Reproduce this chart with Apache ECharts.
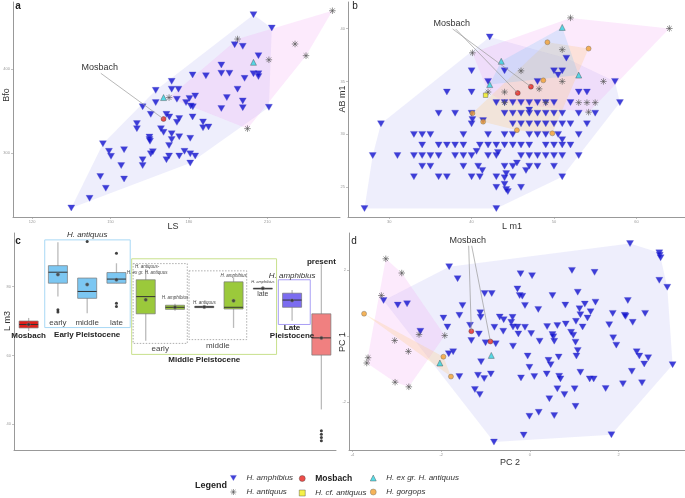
<!DOCTYPE html>
<html><head><meta charset="utf-8">
<script src="https://cdn.jsdelivr.net/npm/echarts@6/dist/echarts.min.js"></script>
<style>html,body{margin:0;padding:0;background:#fff}#c{width:685px;height:498px}</style>
</head><body><div id="c"></div>
<script>
// ---------- Panel a : LS vs Bfo ----------
const a_xticks = [120,150,180,210];
const a_yticks = [300,400];
const a_amphibius = [[204.7,464.7],[211.7,448.8],[197.5,429],[200.6,427],[206.6,415.9],[192.4,404.8],[192.4,395],[195.5,395],[181.4,392.9],[186.5,392],[204.7,394.4],[206.6,394.4],[206.6,391],[201.3,388.9],[173.4,385.3],[167.3,374.6],[173.4,376],[176,376],[198.6,376],[182.4,368],[180.2,365],[175.4,364],[194.5,366],[200.6,362],[167.3,360],[178.9,360],[180.7,356],[181.5,355],[162.3,355],[192.4,353],[200.6,354],[210.6,354.4],[165.4,346],[171.4,346],[172.5,343],[181.4,343],[176.3,341],[175.4,336.5],[160.1,335],[160.1,329],[169.3,329],[185.4,337],[185.4,330],[187.5,331],[170.3,324.6],[173.4,323],[176.3,319.4],[180.5,317.5],[164.9,319],[164.9,316],[173.4,316],[165.1,314],[147.1,311],[172.4,309],[155.2,304],[149.4,302],[150.2,296],[166.2,301.6],[165.4,299],[178.3,302],[180.5,299],[182.4,296.4],[172.4,296.4],[176.3,296.4],[171.4,292],[162.3,292],[154.1,285],[162.3,285],[180.5,288],[146.1,272],[155.2,269],[148.2,258],[142,246],[135,234.5]];
const a_antiquus = [[234.9,469.4],[198.6,435.7],[220.6,429.8],[224.8,415.9],[210.6,411],[172.4,366],[202.4,329]];
const a_exgr = [[170.3,366],[204.7,408]];
const a_mosbach = [[170.3,340.5]];
const a_label = [146.3,395.5];

// ---------- Panel b : L m1 vs AB m1 ----------
const b_xticks = [30,40,50,60];
const b_yticks = [25,30,35,40];
const b_amphibius = [[27,23],[43,23],
[43,25],[46,25],[44,25.3],[44.2,24.8],[44.4,24.6],
[33,26],[36,26],[37,26],[40,26],[41,26],[43,26],[45,26],[51,26],[44.2,26.3],[44,25.9],
[46.6,26.6],[41.3,26.6],
[34,27],[35,27],[39,27],[40.8,27],[44,27],[45,27],[47,27],[48,27],[50,27],[45.5,27.3],
[28,28],[31,28],[33,28],[34,28],[35,28],[36,28],[38,28],[39,28],[40,28],[42,28],[43,28],[46,28],[47,28],[48,28],[49,28],[50,28],[51,28],[53,28],[43.2,28.3],[40.6,28.4],
[34,29],[36,29],[37,29],[38,29],[39,29],[41,29],[42,29],[43,29],[44,29],[45,29],[46,29],[47,29],[49,29],[50,29],[51,29],[52,29],[51,29.5],
[33,30],[34,30],[35,30],[39,30],[42,30],[44,30],[45,30],[47,30],[48,30],[49,30],[50.5,30],[53,30],
[29,31],[40,31],[45,31],[46,31],[47,31],[48,31],[49,31],[50,31],[51,31],[52,31],[54,31],[40.1,31.4],[41.4,31.3],
[36,32],[38,32],[40,32],[44,32],[45,32],[46,32],[47,32],[48,32],[49,32],[50,32],[51,32],[53,32],[55,32],[47,32.3],
[43,33],[44,33],[45,33],[46,33],[47,33],[48,33],[49,33],[50,33],[52,33],[58,33],
[37,34],[40,34],[53,34],[54,34],
[42,35],[48,35],[57.4,35],
[40,36],[44,36],[50,36],[51,36],[50.5,35.6],
[51.5,37.2],[42.2,39.2]];
const b_antiquus = [[52,41],[64,40],[40.1,37.7],[51,38],[46,36],[51,35],[48.2,34.3],[56,35],[42,34],[44,34],[44,33],[49,33],[53,33],[54,33],[55,33],[54.2,32.1]];
const b_exgr = [[51,40.1],[43.6,36.9],[53,35.6],[42.2,34.7]];
const b_gorgops = [[49.2,38.7],[54.2,38.1],[48.7,35.1],[40.1,32],[41.4,31.2],[45.5,30.4],[49.8,30.1]];
const b_cf = [[41.7,33.7]];
const b_mosbach = [[47.2,34.5],[45.6,33.9]];
const b_label = [37.7,40.0];

// ---------- Panel c : L m3 boxplots ----------
const c_yticks = [40,60,80];
const c_categories = ['Mosbach','EP early','EP middle','EP late','MP early antiquus','MP early amphibius','MP middle antiquus','MP middle amphibius','MP late amphibius','LP amphibius','present'];
const c_min    = [67.1,77.1,72.3,81.0,64.3,73.0,74.1,68.0,79.5,70.1,44.3];
const c_q1     = [68.0,81.0,76.6,81.0,72.1,73.4,73.9,73.5,79.5,74.0,60.1];
const c_median = [69.0,84.2,78.6,82.2,77.1,74.0,74.1,74.0,79.5,76.1,65.1];
const c_q3     = [70.0,86.1,82.5,84.1,82.0,74.6,74.3,81.4,79.5,78.1,72.1];
const c_max    = [70.9,92.9,82.5,86.8,85.1,75.0,74.3,82.7,79.5,79.0,86.5];
const c_mean   = [69.0,83.5,80.6,82.0,76.2,74.0,74.1,75.9,79.5,76.0,65.1];
const c_outliers = [[1,73.3],[1,72.6],[2,93.1],[3,89.7],[3,75.2],[3,74.2],[10,38.1],[10,37.1],[10,36.1],[10,35.2]];
const c_colors = ['#e01f1a','#7cc7f2','#7cc7f2','#7cc7f2','#9bc93b','#9bc93b','#333333','#9bc93b','#9a9a9a','#7b6cf0','#f08080'];

// ---------- Panel d : PCA ----------
const d_xticks = [-4,-2,0,2];
const d_yticks = [-2,0,2];
const d_amphibius = [[2.26,2.80],[2.92,2.52],[2.93,2.45],[2.95,2.37],[2.92,1.69],[3.10,1.48],[-1.82,2.10],[-1.63,1.74],[-0.21,1.89],[0.05,1.83],[0.95,1.99],[1.46,1.93],[-0.28,1.43],[-0.23,1.23],[-0.17,1.21],[-1.02,1.29],[-0.86,1.29],[1.08,1.33],[0.51,1.23],[-0.11,0.93],[2.21,1.08],[-3.30,1.08],[-2.98,0.94],[-2.77,0.98],[-1.52,0.93],[0.80,0.94],[1.24,0.97],[1.48,1.03],[1.12,0.83],[0.19,0.81],[1.87,0.69],[2.14,0.63],[2.60,0.69],[-1.59,0.63],[-1.95,0.55],[-1.12,0.71],[-1.11,0.57],[-0.68,0.58],[-0.59,0.50],[-0.39,0.57],[-0.42,0.42],[-0.38,0.28],[-0.28,0.28],[-0.11,0.27],[1.37,0.74],[1.14,0.65],[1.30,0.55],[1.79,0.35],[2.16,0.60],[2.32,0.42],[0.62,0.32],[0.81,0.37],[1.04,0.45],[1.19,0.28],[-1.86,0.28],[-1.35,0.33],[-0.80,0.27],[-0.60,0.15],[-0.26,0.07],[0.03,0.08],[0.39,0.29],[0.51,0.05],[0.53,-0.02],[0.93,0.12],[0.98,0.03],[1.03,-0.18],[0.55,-0.15],[0.22,-0.15],[-0.38,-0.30],[-2.47,0.15],[-1.15,0.07],[-1.00,-0.20],[-0.77,-0.23],[-1.32,-0.13],[-1.73,-0.47],[-1.83,-0.53],[1.88,-0.05],[1.95,-0.27],[1.08,-0.43],[1.05,-0.60],[-0.05,-0.60],[0.65,-0.63],[2.41,-0.47],[2.47,-0.60],[2.67,-0.65],[2.58,-0.84],[3.22,-0.86],[-1.10,-0.77],[0.42,-0.73],[0.47,-0.86],[-0.01,-0.94],[-1.59,-1.22],[-1.17,-1.18],[-1.03,-1.28],[-0.88,-1.14],[-0.20,-1.26],[0.10,-1.22],[0.38,-1.14],[0.66,-1.21],[0.69,-1.29],[1.14,-1.09],[1.35,-1.29],[1.44,-1.29],[2.30,-1.06],[2.53,-1.41],[2.10,-1.44],[1.71,-1.58],[-1.24,-1.61],[-1.13,-1.76],[0.62,-1.59],[0.78,-1.76],[1.01,-1.59],[0.44,-1.89],[1.03,-2.12],[-0.01,-2.42],[0.20,-2.30],[0.55,-2.40],[-0.14,-2.99],[1.84,-2.98],[-0.81,-3.20]];
const d_antiquus = [[-3.25,2.34],[-2.89,1.91],[-3.35,1.23],[-2.50,0.05],[-1.92,0.02],[-3.05,-0.13],[-2.74,-0.46],[-3.65,-0.65],[-3.68,-0.81],[-3.04,-1.39],[-2.73,-1.53]];
const d_gorgops = [[-3.74,0.68],[-1.95,-0.62],[-1.78,-1.22]];
const d_exgr = [[-0.87,-0.58],[-2.03,-0.81]];
const d_mosbach = [[-1.32,0.15],[-0.89,-0.16]];
const d_label = [-1.38,2.75];

// ---------- styles ----------
const FONT = 'Liberation Sans';
const SYM_DOWN = 'path://M0,0 L10,0 L5,8.66 Z';
const SYM_AST = 'path://M5,0 L5,10 M0,5 L10,5 M1.46,1.46 L8.54,8.54 M1.46,8.54 L8.54,1.46';
const ST = {
  'H. amphibius': {symbol: SYM_DOWN, size:[7,6], z:3, itemStyle:{color:'#1010d0', borderColor:'#5050c8', borderWidth:0.4}},
  'H. antiquus': {symbol: SYM_AST, size:6.5, z:4, itemStyle:{color:'rgba(0,0,0,0)', borderColor:'#555', borderWidth:0.8}},
  'Mosbach': {symbol:'circle', size:5, z:6, itemStyle:{color:'#e8201c', borderColor:'#444', borderWidth:0.5}},
  'H. ex gr. H. antiquus': {symbol:'triangle', size:6, z:5, itemStyle:{color:'#2fd3e0', borderColor:'#444', borderWidth:0.5}},
  'H. cf. antiquus': {symbol:'rect', size:4.5, z:5, itemStyle:{color:'#f2ee1a', borderColor:'#444', borderWidth:0.5}},
  'H. gorgops': {symbol:'circle', size:5, z:5, itemStyle:{color:'#f2a030', borderColor:'#666', borderWidth:0.5}},
};
const HULL = {
  'H. amphibius':'rgba(150,150,235,0.16)',
  'H. antiquus':'rgba(240,150,240,0.2)',
  'H. gorgops':'rgba(250,200,130,0.28)',
  'H. ex gr. H. antiquus':'rgba(110,190,245,0.22)'
};

function convexHull(points){
  const p = points.map(q=>[q[0],q[1]]).sort((a,b)=>a[0]-b[0]||a[1]-b[1]);
  if (p.length < 3) return p;
  const cr=(o,a,b)=>(a[0]-o[0])*(b[1]-o[1])-(a[1]-o[1])*(b[0]-o[0]);
  const lo=[]; for(const q of p){while(lo.length>=2&&cr(lo[lo.length-2],lo[lo.length-1],q)<=0)lo.pop();lo.push(q);}
  const up=[]; for(let i=p.length-1;i>=0;i--){const q=p[i];while(up.length>=2&&cr(up[up.length-2],up[up.length-1],q)<=0)up.pop();up.push(q);}
  up.pop(); lo.pop(); return lo.concat(up);
}
function hullSeries(name, pts, gi){
  const h = convexHull(pts);
  return {type:'custom', name:'hull '+name+' '+gi, xAxisIndex:gi, yAxisIndex:gi, silent:true, z:1,
    data:[h[0]],
    renderItem:(params, api)=>({type:'polygon', shape:{points:h.map(q=>api.coord(q))}, style:{fill:HULL[name]}})};
}
function sc(name, data, gi){
  const s = ST[name];
  return {type:'scatter', name, data, xAxisIndex:gi, yAxisIndex:gi, symbol:s.symbol, symbolSize:s.size, itemStyle:s.itemStyle, z:s.z, silent:true};
}
function axisCommon(ticks){
  return {
    axisLine:{show:true, onZero:false, lineStyle:{color:'#999', width:1}},
    axisTick:{show:true, length:2, lineStyle:{color:'#999', width:0.6}, customValues:ticks},
    axisLabel:{show:true, fontSize:4, color:'#999', margin:3, fontFamily:FONT, customValues:ticks},
    splitLine:{show:false}
  };
}

const series = [];
// hulls
[['H. amphibius',a_amphibius],['H. antiquus',a_antiquus]].forEach(([n,d])=>series.push(hullSeries(n,d,0)));
[['H. amphibius',b_amphibius],['H. antiquus',b_antiquus],['H. gorgops',b_gorgops],['H. ex gr. H. antiquus',b_exgr]].forEach(([n,d])=>series.push(hullSeries(n,d,1)));
[['H. amphibius',d_amphibius],['H. antiquus',d_antiquus],['H. gorgops',d_gorgops]].forEach(([n,d])=>series.push(hullSeries(n,d,3)));
// points
series.push(sc('H. amphibius',a_amphibius,0), sc('H. antiquus',a_antiquus,0), sc('H. ex gr. H. antiquus',a_exgr,0), sc('Mosbach',a_mosbach,0));
series.push(sc('H. amphibius',b_amphibius,1), sc('H. antiquus',b_antiquus,1), sc('H. ex gr. H. antiquus',b_exgr,1), sc('H. gorgops',b_gorgops,1), sc('H. cf. antiquus',b_cf,1), sc('Mosbach',b_mosbach,1));
series.push(sc('H. amphibius',d_amphibius,3), sc('H. antiquus',d_antiquus,3), sc('H. ex gr. H. antiquus',d_exgr,3), sc('H. gorgops',d_gorgops,3), sc('Mosbach',d_mosbach,3));
// boxplots
series.push({type:'custom', name:'boxes', xAxisIndex:2, yAxisIndex:2, silent:true, z:3,
  data: c_categories.map((c,i)=>[i,c_min[i],c_q1[i],c_median[i],c_q3[i],c_max[i]]),
  renderItem:(params, api)=>{
    const i=api.value(0);
    const bw=api.size([1,0])[0]*0.65;
    const pMin=api.coord([i,api.value(1)]), pQ1=api.coord([i,api.value(2)]), pMd=api.coord([i,api.value(3)]), pQ3=api.coord([i,api.value(4)]), pMx=api.coord([i,api.value(5)]);
    const x=pMin[0];
    return {type:'group', children:[
      {type:'line', shape:{x1:x,y1:pMx[1],x2:x,y2:pMin[1]}, style:{stroke:'#bbb', lineWidth:1.3}},
      {type:'rect', shape:{x:x-bw/2, y:pQ3[1], width:bw, height:Math.max(pQ1[1]-pQ3[1],0.8)}, style:{fill:c_colors[i], stroke:'#777', lineWidth:0.7}},
      {type:'line', shape:{x1:x-bw/2,y1:pMd[1],x2:x+bw/2,y2:pMd[1]}, style:{stroke:'#333', lineWidth:1}}
    ]};
  }});
series.push({type:'scatter', name:'means', xAxisIndex:2, yAxisIndex:2, silent:true, z:5, symbol:'circle', symbolSize:3.5,
  itemStyle:{color:'#333', borderColor:'#888', borderWidth:0.5}, data:c_mean.map((m,i)=>[i,m])});
series.push({type:'scatter', name:'outliers', xAxisIndex:2, yAxisIndex:2, silent:true, z:5, symbol:'circle', symbolSize:3,
  itemStyle:{color:'#111'}, data:c_outliers});

const legendText = {fontSize:8, color:'#222', fontFamily:FONT,
  rich:{b:{fontWeight:'bold', fontSize:8.5, color:'#222', fontFamily:FONT, padding:[0,0,0,5]}, i:{fontStyle:'italic', fontSize:8, color:'#333', fontFamily:FONT, padding:[0,0,0,5]}}};
const legendFmt = n => n==='Mosbach' ? '{b|Mosbach}' : '{i|'+n+'}';
const legendBase = {top:474, orient:'vertical', itemWidth:6, itemHeight:6, itemGap:6, selectedMode:false, textStyle:legendText, formatter:legendFmt, padding:0};
const legItem = n => ({name:n, itemStyle:Object.assign({}, ST[n].itemStyle)});

const option = {
  animation:false,
  textStyle:{fontFamily:FONT},
  grid:[
    {left:13, top:2, width:327, height:215},
    {left:348, top:2, width:337, height:215},
    {left:14, top:233, width:322, height:217},
    {left:349, top:233, width:336, height:217}
  ],
  xAxis:[
    Object.assign({gridIndex:0, type:'value', min:112.7, max:237.8}, axisCommon(a_xticks)),
    Object.assign({gridIndex:1, type:'value', min:25.0, max:65.9}, axisCommon(b_xticks)),
    {gridIndex:2, type:'category', data:c_categories, boundaryGap:true,
      axisLine:{show:true, lineStyle:{color:'#999', width:1}}, axisTick:{show:false}, axisLabel:{show:false}, splitLine:{show:false}},
    Object.assign({gridIndex:3, type:'value', min:-4.08, max:3.5}, axisCommon(d_xticks))
  ],
  yAxis:[
    Object.assign({gridIndex:0, type:'value', min:223.8, max:479.8}, axisCommon(a_yticks)),
    Object.assign({gridIndex:1, type:'value', min:22.2, max:42.5}, axisCommon(b_yticks)),
    Object.assign({gridIndex:2, type:'value', min:32.5, max:95.6}, axisCommon(c_yticks)),
    Object.assign({gridIndex:3, type:'value', min:-3.44, max:3.12}, axisCommon(d_yticks))
  ],
  legend:[
    Object.assign({left:230, data:[legItem('H. amphibius'),legItem('H. antiquus')]}, legendBase),
    Object.assign({left:299, data:[legItem('Mosbach'),legItem('H. cf. antiquus')]}, legendBase),
    Object.assign({left:370, data:[legItem('H. ex gr. H. antiquus'),legItem('H. gorgops')]}, legendBase)
  ],
  series
};

const chart = echarts.init(document.getElementById('c'), null, {renderer:'canvas'});
chart.setOption(option);

// ---------- annotations (positioned through the axes) ----------
const g = [];
const P = (gi, v) => chart.convertToPixel({xAxisIndex:gi, yAxisIndex:gi}, v);
function T(text, x, y, o){
  o = o || {};
  g.push({type:'text', x, y, rotation:o.rot||0, silent:true, z:50,
    style:{text, fill:o.color||'#333', fontSize:o.size||9, fontWeight:o.weight||'normal', fontStyle:o.style||'normal',
      fontFamily:FONT, align:o.align||'center', verticalAlign:o.va||'middle', lineHeight:o.lh}});
}
function L(x1,y1,x2,y2,color,w){ g.push({type:'line', silent:true, z:40, shape:{x1,y1,x2,y2}, style:{stroke:color||'#999', lineWidth:w||0.7}}); }
function R(x1,y1,x2,y2,color,w,dash){ g.push({type:'rect', silent:true, z:2, shape:{x:x1,y:y1,width:x2-x1,height:y2-y1}, style:{fill:'none', stroke:color, lineWidth:w||1, lineDash:dash||null}}); }

// panel letters
T('a', 18, 6, {size:10, weight:'bold', color:'#222'});
T('b', 355, 6, {size:10, color:'#222'});
T('c', 18, 241, {size:10, weight:'bold', color:'#222'});
T('d', 354, 241, {size:10, color:'#222'});
// axis titles
T('LS', 173, 227, {size:9});
T('L m1', 512, 227, {size:9});
T('PC 2', 510, 463, {size:9});
T('Bfo', 7, 95, {size:9, rot:Math.PI/2});
T('AB m1', 343, 99, {size:9, rot:Math.PI/2});
T('L m3', 8, 321, {size:9, rot:Math.PI/2});
T('PC 1', 343, 342, {size:9, rot:Math.PI/2});

// Mosbach call-outs
function callout(gi, anchor, pts){
  const a = P(gi, anchor);
  T('Mosbach', a[0]-1, a[1]-5, {size:9, color:'#333'});
  pts.forEach((p,k)=>{ const q=P(gi,p); L(a[0]+k*3, a[1]+0.5, q[0], q[1], '#999', 0.7); });
}
callout(0, a_label, a_mosbach);
callout(1, b_label, b_mosbach);
callout(3, d_label, d_mosbach);

// panel c group frames and labels
const c0 = P(2,[0,60]), c1 = P(2,[1,60]);
const band = c1[0]-c0[0];
const cx = f => c0[0] + f*band;
const cy = v => P(2,[0,v])[1];
R(cx(0.55), cy(93.6), cx(3.47), cy(68.1), '#a8d8f5', 1);
R(cx(3.52), cy(88.1), cx(8.47), cy(60.3), '#c8e08c', 1);
R(cx(3.57), cy(86.7), cx(5.42), cy(63.5), '#777', 0.6, [1.5,1.5]);
R(cx(5.48), cy(84.6), cx(7.45), cy(64.6), '#777', 0.6, [1.5,1.5]);
R(cx(8.53), cy(82.0), cx(9.62), cy(69.0), '#a99ff5', 1);

T('H. antiquus', cx(2), cy(95.2), {size:8, style:'italic', color:'#333'});
T('early', cx(1), cy(69.6), {size:8, color:'#444'});
T('middle', cx(2), cy(69.6), {size:8, color:'#444'});
T('late', cx(3), cy(69.6), {size:8, color:'#444'});
T('Mosbach', cx(0), cy(65.6), {size:8, weight:'bold', color:'#222'});
T('Early Pleistocene', cx(2), cy(66.1), {size:8, weight:'bold', color:'#222'});
T('H. antiquus-', cx(4.05), cy(85.7), {size:4.5, style:'italic', color:'#444'});
T('H. ex gr. H. antiquus', cx(4.05), cy(84.0), {size:4.5, style:'italic', color:'#444'});
T('H. amphibius', cx(5), cy(76.7), {size:4.5, style:'italic', color:'#444'});
T('H. antiquus', cx(6), cy(75.4), {size:4.5, style:'italic', color:'#444'});
T('H. amphibius', cx(7), cy(83.1), {size:4.5, style:'italic', color:'#444'});
T('H. amphibius', cx(8), cy(81.3), {size:4, style:'italic', color:'#444'});
T('late', cx(8), cy(77.7), {size:7, color:'#444'});
T('early', (cx(3.57)+cx(5.42))/2, cy(62.0), {size:8, color:'#444'});
T('middle', (cx(5.48)+cx(7.45))/2, cy(62.9), {size:8, color:'#444'});
T('Middle Pleistocene', cx(6), cy(58.8), {size:8, weight:'bold', color:'#222'});
T('H. amphibius', cx(9), cy(83.2), {size:8, style:'italic', color:'#333'});
T('Late\nPleistocene', cx(9), cy(66.8), {size:8, weight:'bold', color:'#222', lh:8});
T('present', cx(10), cy(87.3), {size:8, weight:'bold', color:'#222'});

// legend heading
T('Legend', 195, 486, {size:9, weight:'bold', color:'#222', align:'left'});

chart.setOption({graphic: g});
</script></body></html>
